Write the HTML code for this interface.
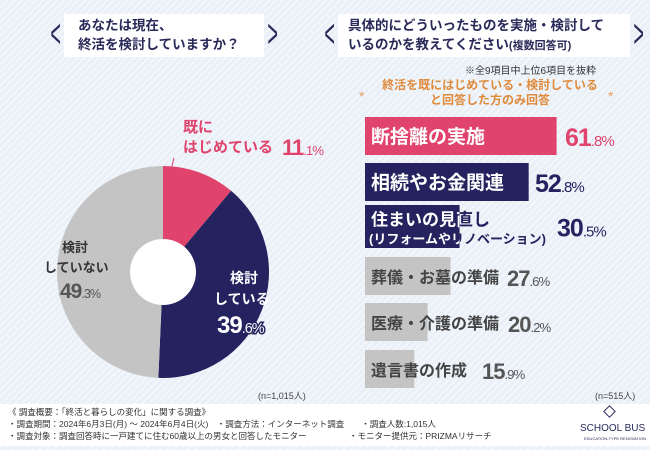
<!DOCTYPE html>
<html><head><meta charset="utf-8">
<style>
*{margin:0;padding:0;box-sizing:border-box}
body{width:650px;height:450px;overflow:hidden;font-family:"Liberation Sans","Noto Sans CJK JP",sans-serif;position:relative;
background:#e9f0f7 repeating-linear-gradient(135deg,rgba(255,255,255,.55) 0 1.5px,transparent 1.5px 5px)}
.abs{position:absolute}
.q{position:absolute;background:#fff;color:#2a2a5a;font-weight:bold;font-size:13.5px;line-height:19px}
.chev{position:absolute;color:#2a2a5a;font-size:40px;font-weight:100;line-height:40px;transform:scaleX(.45)}
#footer{left:0;top:404px;width:650px;height:42px;background:#fff}
.ft{position:absolute;font-size:8.5px;color:#333;white-space:nowrap}
</style></head><body>
<div class="q" style="left:64px;top:14px;width:200px;height:43px;padding:2px 0 0 14px">あなたは現在、<br>終活を検討していますか？</div>
<div class="chev" style="left:44px;top:14px">&lt;</div>
<div class="chev" style="left:261px;top:14px">&gt;</div>

<div class="q" style="left:338px;top:14px;width:292px;height:43px;padding:2px 0 0 10px">具体的にどういったものを実施・検討して<br>いるのかを教えてください<span style="font-size:11px">(複数回答可)</span></div>
<div class="chev" style="left:318px;top:14px">&lt;</div>
<div class="chev" style="left:627px;top:14px">&gt;</div>
<div class="abs" style="left:465px;top:62px;font-size:10px;color:#333">※全9項目中上位6項目を抜粋</div>
<div class="abs" style="left:370px;top:78px;width:240px;text-align:center;font-size:12px;line-height:15px;color:#e08a3c;font-weight:bold">終活を既にはじめている・検討している<br>と回答した方のみ回答</div>
<div class="abs" style="left:359px;top:88px;font-size:14px;color:#e8a060">*</div>
<div class="abs" style="left:608px;top:88px;font-size:14px;color:#e8a060">*</div>

<svg class="abs" style="left:0;top:0" width="650" height="450" id="chart"></svg>

<div class="abs" style="left:258px;top:389px;font-size:9px;color:#444">(n=1,015人)</div>
<div class="abs" style="left:595px;top:389px;font-size:9px;color:#444">(n=515人)</div>

<div class="abs" id="footer">
<div class="ft" style="left:8px;top:2px">《 調査概要：「終活と暮らしの変化」に関する調査》</div>
<div class="ft" style="left:8px;top:14px">・調査期間：2024年6月3日(月) ～ 2024年6月4日(火)　・調査方法：インターネット調査　　・調査人数:1,015人</div>
<div class="ft" style="left:8px;top:26px">・調査対象：調査回答時に一戸建てに住む60歳以上の男女と回答したモニター　　　　　・モニター提供元：PRIZMAリサーチ</div>
<div class="ft" style="left:605px;top:3px;border:1px solid #2a2a5a;transform:rotate(45deg);width:9px;height:9px"></div>
<div class="ft" style="left:580px;top:19px;font-size:10px;color:#2a2a5a">SCHOOL BUS</div>
<div class="ft" style="left:584px;top:32px;font-size:4px;color:#2a2a5a">EDUCATION-TYPE RENOVATION</div>
</div>

<script>
const pieLabels=["既にはじめている","検討している","検討していない"];
const pieValues=[11.1,39.6,49.3];
const pieColors=["#e0436c","#24235f","#c4c4c4"];
const barLabels=["断捨離の実施","相続やお金関連","住まいの見直し","葬儀・お墓の準備","医療・介護の準備","遺言書の作成"];
const barValues=[61.8,52.8,30.5,27.6,20.2,15.9];

const NS="http://www.w3.org/2000/svg";
const svg=document.getElementById('chart');
const FF='"Liberation Sans","Noto Sans CJK JP",sans-serif';
const NF='"Liberation Sans Narrow","Liberation Sans",sans-serif';
function mk(t,a,parent){const e=document.createElementNS(NS,t);for(const k in a)e.setAttribute(k,a[k]);(parent||svg).appendChild(e);return e;}
// pie
const cx=163,cy=272,R=106,r0=33;
let ang=0;const tot=pieValues.reduce((a,b)=>a+b,0);
pieValues.forEach((v,i)=>{
 const a0=ang/tot*2*Math.PI, a1=(ang+v)/tot*2*Math.PI; ang+=v;
 const x0=cx+R*Math.sin(a0),y0=cy-R*Math.cos(a0),x1=cx+R*Math.sin(a1),y1=cy-R*Math.cos(a1);
 const p=mk('path',{d:`M${cx},${cy}L${x0},${y0}A${R},${R} 0 ${a1-a0>Math.PI?1:0} 1 ${x1},${y1}Z`,fill:pieColors[i]});
 
 
});
const hole=mk('circle',{cx:cx,cy:cy,r:r0,fill:'#fff'});


mk('line',{x1:172,y1:166,x2:174,y2:158,stroke:'#e0436c','stroke-width':1});
function txt(x,y,s,o,parent){const e=mk('text',Object.assign({x:x,y:y,'font-family':FF,'font-weight':'bold'},o),parent);e.textContent=s;return e;}
function pct(x,y,v,fill,size,stroke){const e=txt(x,y,'',{fill:fill,'font-size':size,'font-family':NF,stroke:stroke||'none','stroke-width':stroke?3:0,'paint-order':'stroke','letter-spacing':'-1'});
 const [a,b]=v.toFixed(1).split('.');
 const t1=document.createElementNS(NS,'tspan');t1.textContent=a;e.appendChild(t1);
 const t2=document.createElementNS(NS,'tspan');t2.textContent='.'+b+'%';t2.setAttribute('font-size',size*0.6);t2.setAttribute('font-weight','normal');e.appendChild(t2);return e;}
let t;
t=txt(183,132,'既に',{fill:'#e0436c','font-size':15});
txt(183,152,'はじめている',{fill:'#e0436c','font-size':15});
t=pct(282,155,pieValues[0],'#e0436c',22);
t=txt(230,283,'検討',{fill:'#fff','font-size':14});

txt(214,304,'している',{fill:'#fff','font-size':14});
t=pct(217,333,pieValues[1],'#fff',24,'#24235f');
t=txt(62,252,'検討',{fill:'#333','font-size':13});
txt(44,272,'していない',{fill:'#333','font-size':13});
t=pct(60,298,pieValues[2],'#555',21,'#c4c4c4');
// bars
const bx=365,scale=3.1;
const tops=[117,163,205,257,303,350],hs=[38,38,43,38,38,38];
const barCol=["#e0436c","#24235f","#24235f","#c4c4c4","#c4c4c4","#c4c4c4"];
const defs=mk('defs',{});
barValues.forEach((v,i)=>{
 const b=mk('rect',{x:bx,y:tops[i],width:v*scale,height:hs[i],fill:barCol[i]});
 
 
 const dark=i<3, ty=tops[i]+hs[i]/2+7;
 let lab,lx=371;
 if(i==2){
  const cp=mk('clipPath',{id:'cp3'},defs);mk('rect',{x:bx,y:tops[i],width:v*scale,height:hs[i]},cp);
  lab=txt(lx,ty-8,barLabels[i],{fill:'#24235f','font-size':17});
  txt(lx-2,ty+10,'(リフォームやリノベーション)',{fill:'#24235f','font-size':13});
  const g=mk('g',{'clip-path':'url(#cp3)'});
  txt(lx,ty-8,barLabels[i],{fill:'#fff','font-size':17},g);
  txt(lx-2,ty+10,'(リフォームやリノベーション)',{fill:'#fff','font-size':13},g);
 }
 else lab=txt(lx,ty,barLabels[i],{fill:dark?'#fff':'#444','font-size':dark?19:16,stroke:dark?barCol[i]:'none','stroke-width':dark?3:0,'paint-order':'stroke'});
 
 
 const vx=[565,535,557,507,508,482][i];
 const vc=i==0?'#e0436c':(i<3?'#24235f':'#555');
 const vl=pct(vx,ty+3,v,vc,i<3?25:22);
 
 
});
</script>
</body></html>
